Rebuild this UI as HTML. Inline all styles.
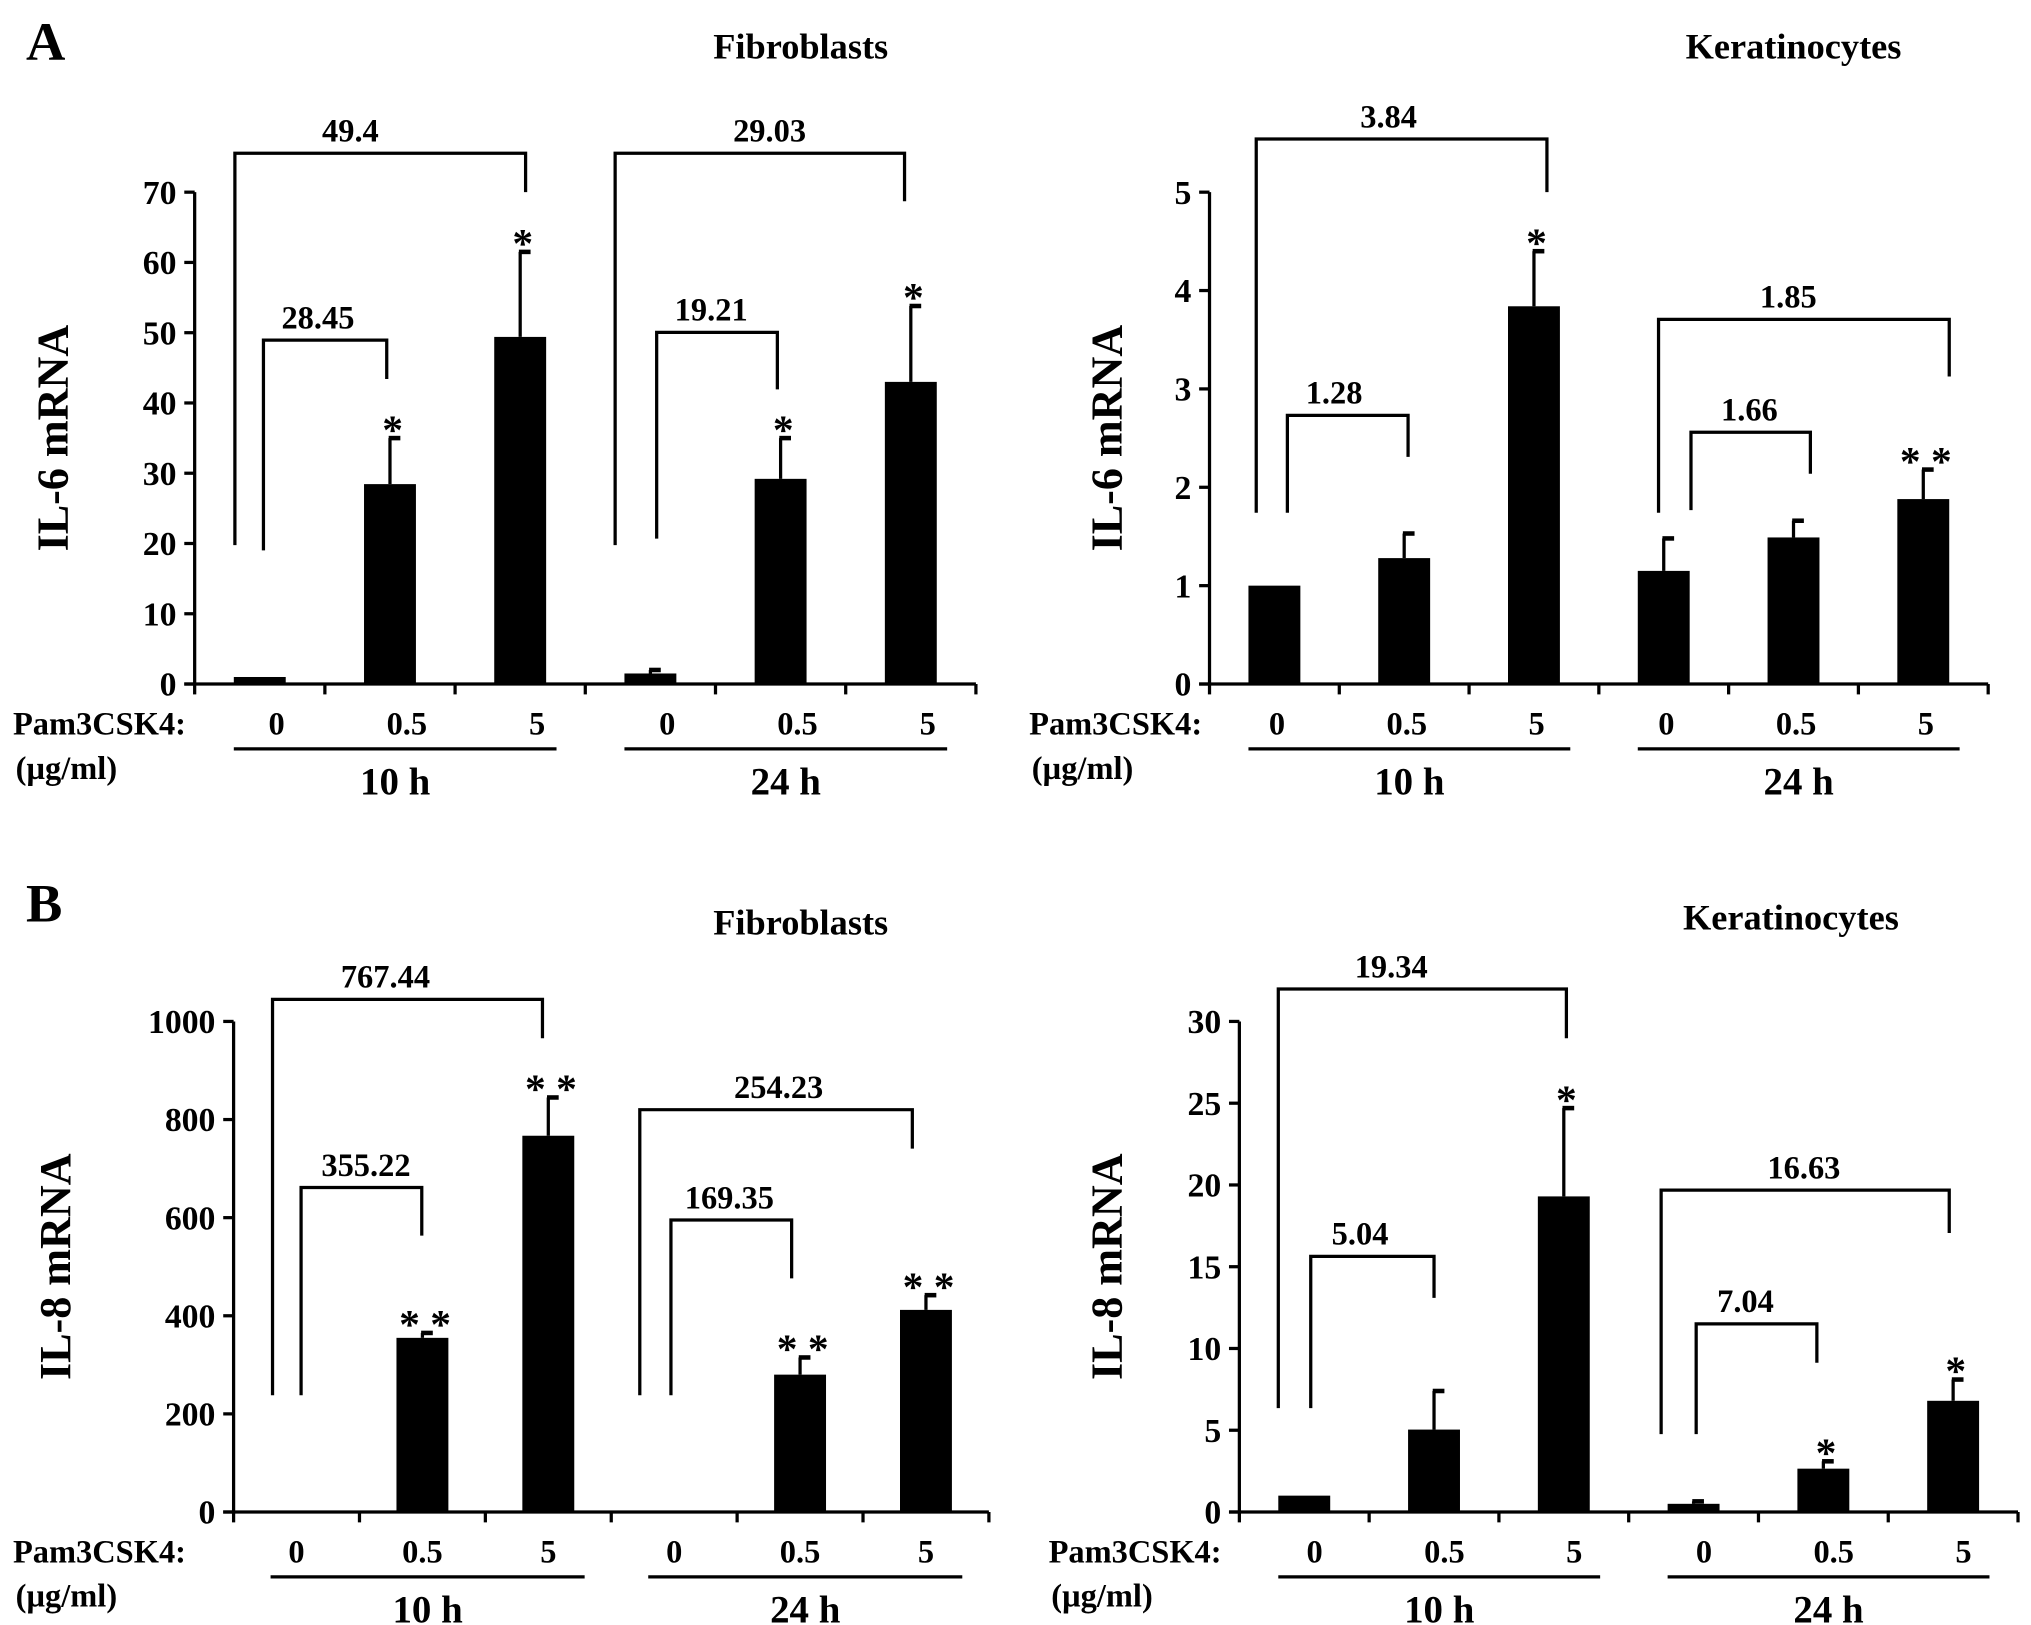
<!DOCTYPE html>
<html><head><meta charset="utf-8"><style>
html,body{margin:0;padding:0;background:#fff;}
svg{display:block;}
text{font-family:"Liberation Serif","Times New Roman",serif;font-weight:bold;fill:#000;}
</style></head><body>
<svg id="fig" width="2031" height="1625" viewBox="0 0 1565 1252" xmlns="http://www.w3.org/2000/svg" font-family="Liberation Serif, serif" font-weight="bold">
<text x="20" y="46" font-size="42">A</text>
<text x="20" y="710" font-size="42">B</text>
</svg>
<script>
// Categories
const doses = ["0","0.5","5","0","0.5","5"];
const times = ["10 h","24 h"];
// IL-6 fibroblasts
const il6FibValues = [1, 28.45, 49.4, 1.5, 29.2, 43];
const il6FibErrors = [0, 35, 61.5, 2, 35, 53.8];
const il6FibTicks = [0,10,20,30,40,50,60,70];
const il6FibStars = ["","*","*","","*","*"];
// IL-6 keratinocytes
const il6KerValues = [1, 1.28, 3.84, 1.15, 1.49, 1.88];
const il6KerErrors = [1, 1.53, 4.4, 1.48, 1.66, 2.18];
const il6KerTicks = [0,1,2,3,4,5];
const il6KerStars = ["","","*","","","* *"];
// IL-8 fibroblasts
const il8FibValues = [0, 355, 767, 0, 280, 412];
const il8FibErrors = [0, 365, 845, 0, 315, 442];
const il8FibTicks = [0,200,400,600,800,1000];
const il8FibStars = ["","* *","* *","","* *","* *"];
// IL-8 keratinocytes
const il8KerValues = [1, 5.04, 19.3, 0.5, 2.65, 6.8];
const il8KerErrors = [1, 7.4, 24.7, 0.65, 3.1, 8.1];
const il8KerTicks = [0,5,10,15,20,25,30];
const il8KerStars = ["","","*","","*","*"];

const NS="http://www.w3.org/2000/svg";
const svg=document.getElementById('fig');
function mk(tag,attrs,parent){const e=document.createElementNS(NS,tag);for(const k in attrs)e.setAttribute(k,attrs[k]);(parent||svg).appendChild(e);return e;}
function txt(x,y,s,size,anchor,parent){const t=mk('text',{x:x,y:y,'font-size':size,'text-anchor':anchor||'middle','font-family':'Liberation Serif, serif','font-weight':'bold'},parent);t.textContent=s;return t;}

function panel(cfg){
  const g=mk('g',{});
  
  
  const yMax=cfg.ticks[cfg.ticks.length-1];
  const ys=v=>cfg.y0-(v/yMax)*(cfg.y0-cfg.yTop);
  const step=(cfg.xEnd-cfg.x0)/6;
  const xc=i=>cfg.x0+step*(i+0.5);
  const ya=mk('line',{x1:cfg.x0,y1:cfg.yTop,x2:cfg.x0,y2:cfg.y0,stroke:'#000','stroke-width':2.5},g);
  
  
  const xa=mk('line',{x1:cfg.x0-8,y1:cfg.y0,x2:cfg.xEnd,y2:cfg.y0,stroke:'#000','stroke-width':2.5},g);
  
  
  cfg.ticks.forEach(t=>{
    mk('line',{x1:cfg.x0-8,y1:ys(t),x2:cfg.x0,y2:ys(t),stroke:'#000','stroke-width':2.5},g);
    const l=txt(cfg.x0-14,ys(t)+9,String(t),26,'end',g);
    
    
  });
  for(let i=0;i<=6;i++) mk('line',{x1:cfg.x0+step*i,y1:cfg.y0,x2:cfg.x0+step*i,y2:cfg.y0+8,stroke:'#000','stroke-width':2.5},g);
  const bw=40;
  cfg.values.forEach((v,i)=>{
    const cx=xc(i);
    const e=cfg.errors[i];
    if(e>v){
      const el=mk('line',{x1:cx,y1:ys(v),x2:cx,y2:ys(e),stroke:'#000','stroke-width':2.5},g);
      
      
      mk('line',{x1:cx-1,y1:ys(e),x2:cx+8,y2:ys(e),stroke:'#000','stroke-width':3.5},g);
    }
    if(v>0){
      const b=mk('rect',{x:cx-bw/2,y:ys(v),width:bw,height:cfg.y0-ys(v),fill:'#000'},g);
      
      
    }
    if(cfg.stars[i]){
      const s=txt(cx+2,ys(Math.max(e,v))+4,cfg.stars[i],32,'middle',g);
      
      
    }
    const d=txt(xc(i)+cfg.labelShift,cfg.y0+39,doses[i],25,'middle',g);
    
    
  });
  const p=txt(cfg.pamX,cfg.y0+39,'Pam3CSK4:',25,'start',g);
  
  
  const u=txt(cfg.pamX+2,cfg.y0+73,'(µg/ml)',25,'start',g);
  
  
  [0,1].forEach(k=>{
    const a=xc(3*k)-20, b=xc(3*k+2)+28;
    mk('line',{x1:a,y1:cfg.y0+50,x2:b,y2:cfg.y0+50,stroke:'#000','stroke-width':2.5},g);
    const t=txt((a+b)/2,cfg.y0+85,times[k],30,'middle',g);
    
    
  });
  const ti=txt(cfg.titleX,cfg.titleY,cfg.title,28,'middle',g);
  
  
  const yt=txt(0,0,cfg.ytitle,34,'middle',g);
  yt.setAttribute('transform','translate('+cfg.ytX+','+((cfg.y0+cfg.yTop)/2)+') rotate(-90)');
  
  
  cfg.brackets.forEach(br=>{
    const pth=mk('path',{d:'M'+br[0]+' '+br[1]+' V'+br[2]+' H'+br[3]+' V'+br[4],fill:'none',stroke:'#000','stroke-width':2.5},g);
    
    
    const bt=txt(br[5],br[2]-9,br[6],25,'middle',g);
    
    
  });
}

panel({name:'il6-fibroblasts-chart',short:'il6-fib',x0:150,xEnd:752,y0:527,yTop:148,ticks:il6FibTicks,values:il6FibValues,errors:il6FibErrors,stars:il6FibStars,
  labelShift:13,pamX:10,title:'Fibroblasts',titleX:617,titleY:45,ytitle:'IL-6 mRNA',ytX:52,
  brackets:[[181,420,118,405,148,270,'49.4'],[203,424,262,298,292,245,'28.45'],[474,420,118,697,155,593,'29.03'],[506,415,256,599,300,548,'19.21']]});
panel({name:'il6-keratinocytes-chart',short:'il6-ker',x0:932,xEnd:1532,y0:527,yTop:148,ticks:il6KerTicks,values:il6KerValues,errors:il6KerErrors,stars:il6KerStars,
  labelShift:2,pamX:793,title:'Keratinocytes',titleX:1382,titleY:45,ytitle:'IL-6 mRNA',ytX:864,
  brackets:[[968,395,107,1192,148,1070,'3.84'],[992,395,320,1085,352,1028,'1.28'],[1278,395,246,1502,290,1378,'1.85'],[1303,393,333,1395,365,1348,'1.66']]});
panel({name:'il8-fibroblasts-chart',short:'il8-fib',x0:180,xEnd:762,y0:1165,yTop:787,ticks:il8FibTicks,values:il8FibValues,errors:il8FibErrors,stars:il8FibStars,
  labelShift:0,pamX:10,title:'Fibroblasts',titleX:617,titleY:720,ytitle:'IL-8 mRNA',ytX:54,
  brackets:[[210,1075,770,418,800,297,'767.44'],[232,1075,915,325,952,282,'355.22'],[493,1075,855,703,885,600,'254.23'],[517,1075,940,610,985,562,'169.35']]});
panel({name:'il8-keratinocytes-chart',short:'il8-ker',x0:955,xEnd:1555,y0:1165,yTop:787,ticks:il8KerTicks,values:il8KerValues,errors:il8KerErrors,stars:il8KerStars,
  labelShift:8,pamX:808,title:'Keratinocytes',titleX:1380,titleY:716,ytitle:'IL-8 mRNA',ytX:864,
  brackets:[[985,1085,762,1207,800,1072,'19.34'],[1010,1085,968,1105,1000,1048,'5.04'],[1280,1105,917,1502,950,1390,'16.63'],[1307,1105,1020,1400,1050,1345,'7.04']]});
</script>
</body></html>
